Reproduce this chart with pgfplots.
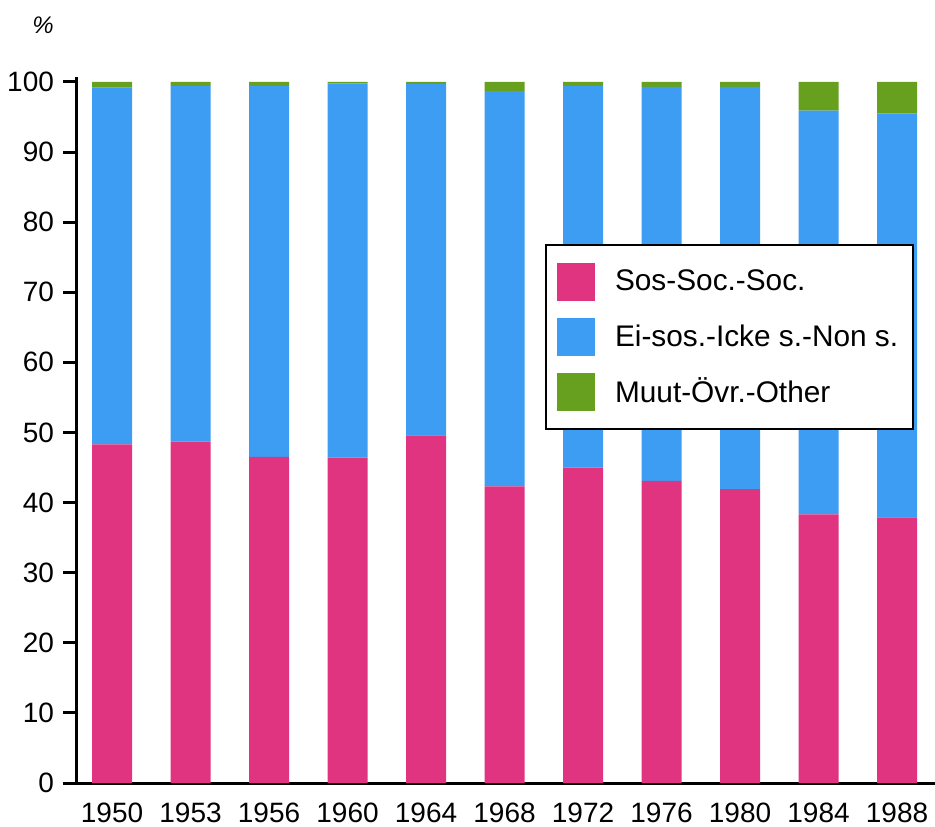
\documentclass[border=0pt]{standalone}
\usepackage{pgfplots}
\pgfplotsset{compat=1.18}
\usepackage{fontspec}
\setmainfont{Liberation Sans}
\definecolor{cpink}{RGB}{224,52,128}
\definecolor{cblue}{RGB}{60,157,242}
\definecolor{cgreen}{RGB}{102,160,30}
\pgfplotstableread{
x red blue green
0 48.3 50.9 0.8
1 48.7 50.7 0.6
2 46.5 52.9 0.6
3 46.4 53.4 0.2
4 49.6 50.1 0.3
5 42.3 56.4 1.3
6 45.0 54.4 0.6
7 43.1 56.2 0.7
8 41.9 57.4 0.7
9 38.3 57.6 4.1
10 37.9 57.6 4.5
}\datatable
\begin{document}
\begin{tikzpicture}
\begin{axis}[
  name=ax,
  at={(0,0)}, anchor=south west,
  scale only axis,
  width=429pt, height=353pt,
  xmin=-0.446, xmax=10.484,
  ymin=0, ymax=100.7,
  axis x line=bottom, axis y line=left,
  axis line style={line width=1.5pt, -},
  ybar stacked, bar width=20pt,
  xtick={0,...,10},
  xticklabels={1950,1953,1956,1960,1964,1968,1972,1976,1980,1984,1988},
  xtick style={draw=none},
  ytick={0,10,...,100},
  ytick style={line width=1.5pt, black},
  tick align=outside,
  major tick length=7pt,
  /pgf/number format/assume math mode=true,
  tick label style={font=\fontsize{14}{16}\selectfont},
  xticklabel style={yshift=0.5pt},
  yticklabel style={xshift=-1pt},
  legend cell align=left,
  legend style={
    at={(0.5455,0.7635)}, anchor=north west,
    draw=black, line width=1pt,
    inner xsep=5.5pt, inner ysep=9pt,
    font=\fontsize{14.9}{17}\selectfont,
    row sep=8.5pt,
    /tikz/every odd column/.append style={column sep=8pt},
  },
  legend image code/.code={\fill[#1, draw=none] (0pt,-9.5pt) rectangle (19pt,9.5pt);},
]
\addplot[fill=cpink, draw=none] table[x=x, y=red] {\datatable};
\addplot[fill=cblue, draw=none] table[x=x, y=blue] {\datatable};
\addplot[fill=cgreen, draw=none] table[x=x, y=green] {\datatable};
\legend{Sos-Soc.-Soc.,Ei-sos.-Icke s.-Non s.,Muut-Övr.-Other}
\end{axis}
\node[font=\itshape\fontsize{12}{13}\selectfont] at ([xshift=-17pt, yshift=26pt]ax.north west) {\%};
\pgfresetboundingbox
\path[use as bounding box] (ax.south west) ++(-38.5pt,-21.5pt) rectangle ++(467.5pt,413pt);
\end{tikzpicture}
\end{document}
